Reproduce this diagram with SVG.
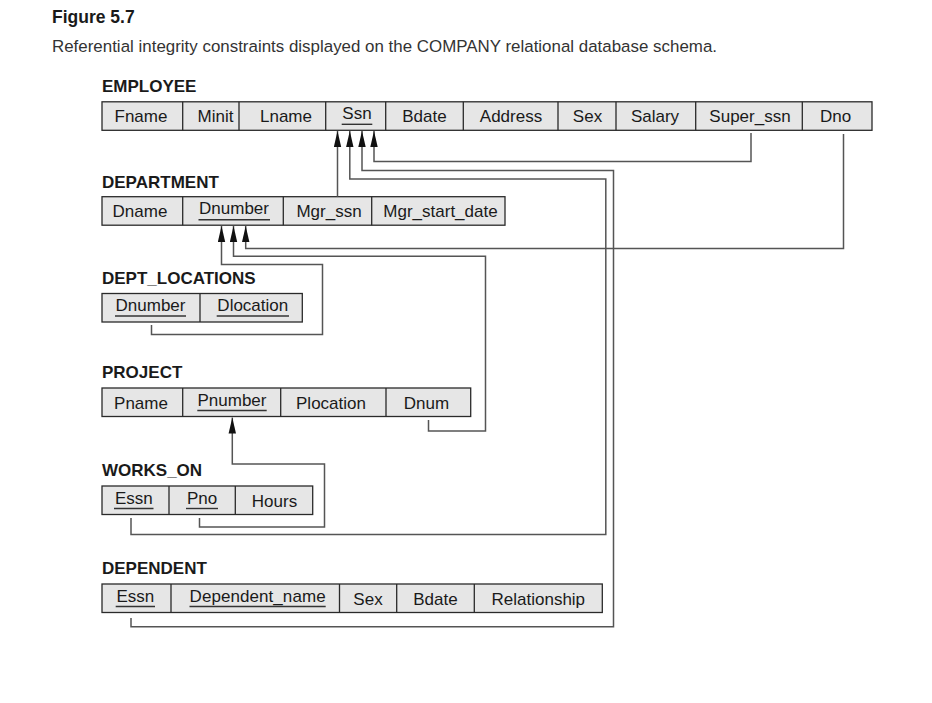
<svg xmlns="http://www.w3.org/2000/svg" width="932" height="703" viewBox="0 0 932 703">
<style>
text{font-family:"Liberation Sans",Arial,sans-serif;fill:#1a1a1a}
.fig{font-size:17.5px;font-weight:bold}
.cap{font-size:16.9px;fill:#333}
.ttl{font-size:17px;font-weight:bold}
.f{font-size:17px;text-anchor:middle}
.tb{fill:#e6e6e6;stroke:#2a2a2a;stroke-width:1.3}
.sp{stroke:#2a2a2a;stroke-width:1.3}
.ul{stroke:#333;stroke-width:1.4}
.cn{fill:none;stroke:#555;stroke-width:1.5}
</style>
<defs>
<marker id="ah" markerUnits="userSpaceOnUse" markerWidth="16" markerHeight="8" viewBox="0 0 16 8" refX="16" refY="4" orient="auto"><path d="M0,0.3 L16,4 L0,7.7 z" fill="#111"/></marker>
</defs>
<rect width="932" height="703" fill="#fff"/>
<text class="fig" x="52" y="23">Figure 5.7</text>
<text class="cap" x="52" y="52" textLength="665" lengthAdjust="spacing">Referential integrity constraints displayed on the COMPANY relational database schema.</text>

<g id="employee">
<text class="ttl" x="102" y="91.5">EMPLOYEE</text>
<rect class="tb" x="102" y="101.8" width="770" height="28.5"/>
<path class="sp" d="M182.7,101.8V130.3M239,101.8V130.3M325.7,101.8V130.3M385.7,101.8V130.3M463.3,101.8V130.3M558,101.8V130.3M616,101.8V130.3M695.7,101.8V130.3M802.3,101.8V130.3"/>
<text class="f" x="141" y="122.3">Fname</text>
<text class="f" x="215.5" y="122.3">Minit</text>
<text class="f" x="286" y="122.3">Lname</text>
<text class="f" x="357" y="119.3">Ssn</text>
<line class="ul" x1="341.7" y1="124.3" x2="372.3" y2="124.3"/>
<text class="f" x="424.5" y="122.3">Bdate</text>
<text class="f" x="511" y="122.3">Address</text>
<text class="f" x="587.5" y="122.3">Sex</text>
<text class="f" x="655" y="122.3">Salary</text>
<text class="f" x="750" y="122.3">Super_ssn</text>
<text class="f" x="835.5" y="122.3">Dno</text>
</g>

<g id="department">
<text class="ttl" x="102" y="187.5">DEPARTMENT</text>
<rect class="tb" x="102" y="196.7" width="403" height="28.5"/>
<path class="sp" d="M182.7,196.7V225.2M283.3,196.7V225.2M371.7,196.7V225.2"/>
<text class="f" x="140" y="217.2">Dname</text>
<text class="f" x="234" y="214.2">Dnumber</text>
<line class="ul" x1="198.5" y1="219.7" x2="270" y2="219.7"/>
<text class="f" x="329" y="217.2">Mgr_ssn</text>
<text class="f" x="440.5" y="217.2">Mgr_start_date</text>
</g>

<g id="dept_locations">
<text class="ttl" x="102" y="284">DEPT_LOCATIONS</text>
<rect class="tb" x="102" y="293.5" width="200.3" height="28.5"/>
<path class="sp" d="M200,293.5V322"/>
<text class="f" x="150.5" y="311">Dnumber</text>
<line class="ul" x1="115" y1="316" x2="186" y2="316"/>
<text class="f" x="252.8" y="311">Dlocation</text>
<line class="ul" x1="216.7" y1="316" x2="289" y2="316"/>
</g>

<g id="project">
<text class="ttl" x="102" y="377.5">PROJECT</text>
<rect class="tb" x="102" y="388" width="368.7" height="28.5"/>
<path class="sp" d="M182.7,388V416.5M280.7,388V416.5M386,388V416.5"/>
<text class="f" x="141" y="408.5">Pname</text>
<text class="f" x="232" y="405.5">Pnumber</text>
<line class="ul" x1="197.3" y1="410.5" x2="266.7" y2="410.5"/>
<text class="f" x="331" y="408.5">Plocation</text>
<text class="f" x="426.5" y="408.5">Dnum</text>
</g>

<g id="works_on">
<text class="ttl" x="102" y="475.5">WORKS_ON</text>
<rect class="tb" x="102" y="486" width="210.7" height="28.5"/>
<path class="sp" d="M169,486V514.5M235.3,486V514.5"/>
<text class="f" x="133.8" y="503.5">Essn</text>
<line class="ul" x1="114" y1="508.5" x2="153.5" y2="508.5"/>
<text class="f" x="202" y="503.5">Pno</text>
<line class="ul" x1="186" y1="508.5" x2="218" y2="508.5"/>
<text class="f" x="274.5" y="506.5">Hours</text>
</g>

<g id="dependent">
<text class="ttl" x="102" y="573.5">DEPENDENT</text>
<rect class="tb" x="102" y="584" width="500.3" height="28.5"/>
<path class="sp" d="M171,584V612.5M339.5,584V612.5M396.7,584V612.5M474.3,584V612.5"/>
<text class="f" x="135.3" y="601.5">Essn</text>
<line class="ul" x1="115.7" y1="606.5" x2="155" y2="606.5"/>
<text class="f" x="257.6" y="601.5" textLength="136" lengthAdjust="spacing">Dependent_name</text>
<line class="ul" x1="189.5" y1="606.5" x2="325.7" y2="606.5"/>
<text class="f" x="368" y="604.5">Sex</text>
<text class="f" x="435.5" y="604.5">Bdate</text>
<text class="f" x="538.3" y="604.5">Relationship</text>
</g>

<g id="connectors">
<polyline class="cn" marker-end="url(#ah)" points="751,133 751,161.5 374,161.5 374,131"/>
<polyline class="cn" marker-end="url(#ah)" points="131,618 131,626.8 613.5,626.8 613.5,170.5 362,170.5 362,131"/>
<polyline class="cn" marker-end="url(#ah)" points="131,518 131,534.5 605.8,534.5 605.8,179 349.8,179 349.8,131"/>
<polyline class="cn" marker-end="url(#ah)" points="337.5,196.7 337.5,131"/>
<polyline class="cn" marker-end="url(#ah)" points="843.5,134 843.5,248.5 245.7,248.5 245.7,226"/>
<polyline class="cn" marker-end="url(#ah)" points="428.5,420 428.5,431 485.5,431 485.5,256.3 233.5,256.3 233.5,226"/>
<polyline class="cn" marker-end="url(#ah)" points="151.5,325 151.5,334.5 322.5,334.5 322.5,264.5 221.5,264.5 221.5,226"/>
<polyline class="cn" marker-end="url(#ah)" points="199.5,518 199.5,527 324.5,527 324.5,464 232.3,464 232.3,417.5"/>
</g>
</svg>
